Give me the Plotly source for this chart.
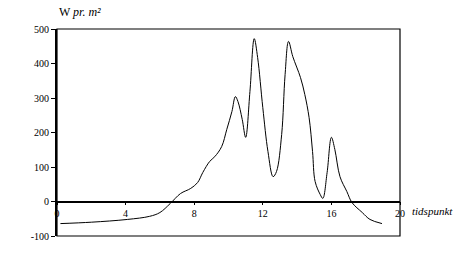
import plotly.graph_objects as go

# time points (tidspunkt, hours) and irradiance (W pr. m^2)
t = [0.2, 2.0, 4.1, 5.4, 6.0, 6.6, 7.2, 7.8, 8.2, 8.5, 8.9, 9.2, 9.6, 9.9, 10.2,
     10.4, 10.55, 10.8, 11.0, 11.25, 11.5, 11.7, 12.0, 12.3, 12.6, 12.8, 13.1,
     13.3, 13.5, 13.75, 14.2, 14.45, 14.7, 14.9, 15.05, 15.35, 15.5, 15.75, 16.0,
     16.2, 16.5, 16.9, 17.2, 17.8, 18.25, 18.95]
w = [-64, -60, -52, -43, -32, -6, 23, 38, 55, 84, 116, 130, 159, 209, 261,
     304, 290, 238, 186, 319, 472, 417, 272, 145, 72, 87, 194,
     368, 464, 420, 359, 310, 243, 145, 58, 20, 9, 84, 186,
     151, 72, 29, -3, -32, -52, -64]

x_ticks = [0, 4, 8, 12, 16, 20]
x_ticklabels = ["0", "4", "8", "12", "16", "20"]
y_ticks = [-100, 0, 100, 200, 300, 400, 500]
y_ticklabels = ["-100", "0", "100", "200", "300", "400", "500"]

font = dict(family="Liberation Serif", size=10, color="black")

fig = go.Figure()
fig.add_trace(go.Scatter(x=t, y=w, mode="lines", line=dict(color="black", width=1),
                         line_shape="spline", hoverinfo="skip", showlegend=False))

fig.update_layout(
    width=470, height=257,
    margin=dict(l=57, r=70, t=29, b=21),
    paper_bgcolor="white", plot_bgcolor="white",
    font=font,
    xaxis=dict(range=[0, 20], tickvals=x_ticks, ticktext=x_ticklabels,
               anchor="free", position=1/6, showline=True, linecolor="black",
               linewidth=1.5, ticks="outside", ticklen=3, tickcolor="black",
               showgrid=False, zeroline=False, tickfont=font, fixedrange=True),
    yaxis=dict(range=[-100, 500], tickvals=y_ticks, ticktext=y_ticklabels,
               showline=True, linecolor="black", linewidth=2, ticks="outside",
               ticklen=4, tickcolor="black", showgrid=False, zeroline=False,
               tickfont=font, fixedrange=True),
    shapes=[dict(type="rect", xref="paper", yref="paper", x0=0, x1=1, y0=0, y1=1,
                 line=dict(color="black", width=1.2))],
    annotations=[
        dict(text="W <i>pr. m²</i>", xref="paper", yref="paper", x=0, y=1,
             xanchor="left", yanchor="bottom", yshift=8, showarrow=False,
             font=dict(family="Liberation Serif", size=12, color="black")),
        dict(text="<i>tidspunkt</i>", xref="paper", yref="paper", x=1, y=1/6,
             xanchor="left", yanchor="top", xshift=10, yshift=-1, showarrow=False,
             font=dict(family="Liberation Serif", size=11, color="black")),
    ],
)

fig.write_html("out.html")
